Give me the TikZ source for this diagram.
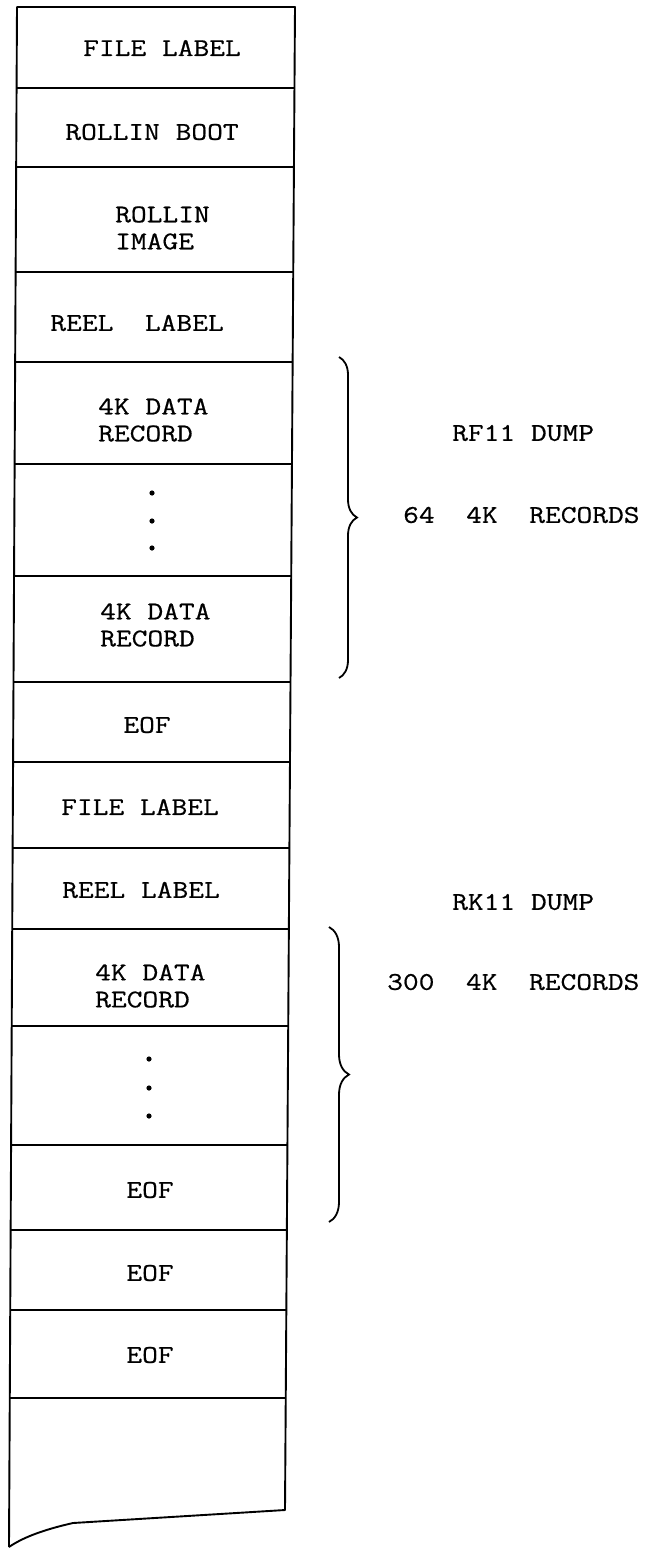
\documentclass[tikz,border=0pt]{standalone}
\usepackage{fontspec}
\setmonofont{Latin Modern Mono}[FakeStretch=1.2, FakeBold=0.6]
\usetikzlibrary{calc, decorations.pathreplacing}
\tikzset{
  lbl/.style={font=\ttfamily\fontsize{25.5}{27}\selectfont, inner sep=0pt, align=left},
  tape/.style={line width=1.9pt, black, line join=round},
  sep/.style={line width=1.6pt, black},
  brc/.style={decorate, decoration={brace, amplitude=#1}, line width=1.8pt},
  brc/.default=18pt,
}

\begin{document}
\begin{tikzpicture}[x=1pt, y=-1pt]
  \useasboundingbox[fill=white] (0,0) rectangle (647,1549);

  % tape outline (slightly skewed, torn bottom)
  \coordinate (lt) at (17,7);
  \coordinate (rt) at (295,7);
  \coordinate (lb) at (9,1547);
  \coordinate (rb) at (285,1510);
  \coordinate (tear) at (73,1523);
  \draw[tape] (lb) -- (lt) -- (rt) -- (rb) -- (tear)
    .. controls (42,1530) and (22,1538) .. (lb);

  \foreach \y in {88,167,272,362,464,576,682,762,848,929,1026,1145,1230,1310,1398} {
    \pgfmathsetmacro{\posl}{(\y-7)/1540}
    \pgfmathsetmacro{\posr}{(\y-7)/1503}
    \draw[sep] ($(lt)!\posl!(lb)$) -- ($(rt)!\posr!(rb)$);
  }

  % records on the tape
  \node[lbl] (flab1) at (162,48) {FILE LABEL};
  \node[lbl] (boot) at (152,132) {ROLLIN BOOT};
  \node[lbl, anchor=west] (image) at (115,228) {ROLLIN\\IMAGE};
  \node[lbl] (reel1) at (137,323) {REEL\ \ LABEL};
  \node[lbl, anchor=west] (rec1) at (98,420) {4K DATA\\RECORD};
  \foreach \y in {493,521,548} \fill (152,\y) circle (2.6pt);
  \node[lbl, anchor=west] (rec2) at (100,625) {4K DATA\\RECORD};
  \node[lbl] (eof1) at (147,725) {EOF};
  \node[lbl] (flab2) at (140,807) {FILE LABEL};
  \node[lbl] (reel2) at (141,890) {REEL LABEL};
  \node[lbl, anchor=west] (rec3) at (95,986) {4K DATA\\RECORD};
  \foreach \y in {1059,1088,1116} \fill (149,\y) circle (2.6pt);
  \node[lbl] (eof2) at (150,1190) {EOF};
  \node[lbl] (eof3) at (150,1273) {EOF};
  \node[lbl] (eof4) at (150,1355) {EOF};

  % dump groups
  \coordinate (rfTop) at (339,357);
  \coordinate (rfBot) at (339,678);
  \draw[brc] (rfTop) -- (rfBot);
  \node[lbl, anchor=west] (rfname) at (452,433) {RF11 DUMP};
  \node[lbl, anchor=west] (rfcount) at (403,515) {64\ \ 4K\ \ RECORDS};

  \coordinate (rkTop) at (329,927);
  \coordinate (rkBot) at (329,1222);
  \draw[brc=20pt] (rkTop) -- (rkBot);
  \node[lbl, anchor=west] (rkname) at (452,902) {RK11 DUMP};
  \node[lbl, anchor=west] (rkcount) at (387,982) {300\ \ 4K\ \ RECORDS};
\end{tikzpicture}
\end{document}
